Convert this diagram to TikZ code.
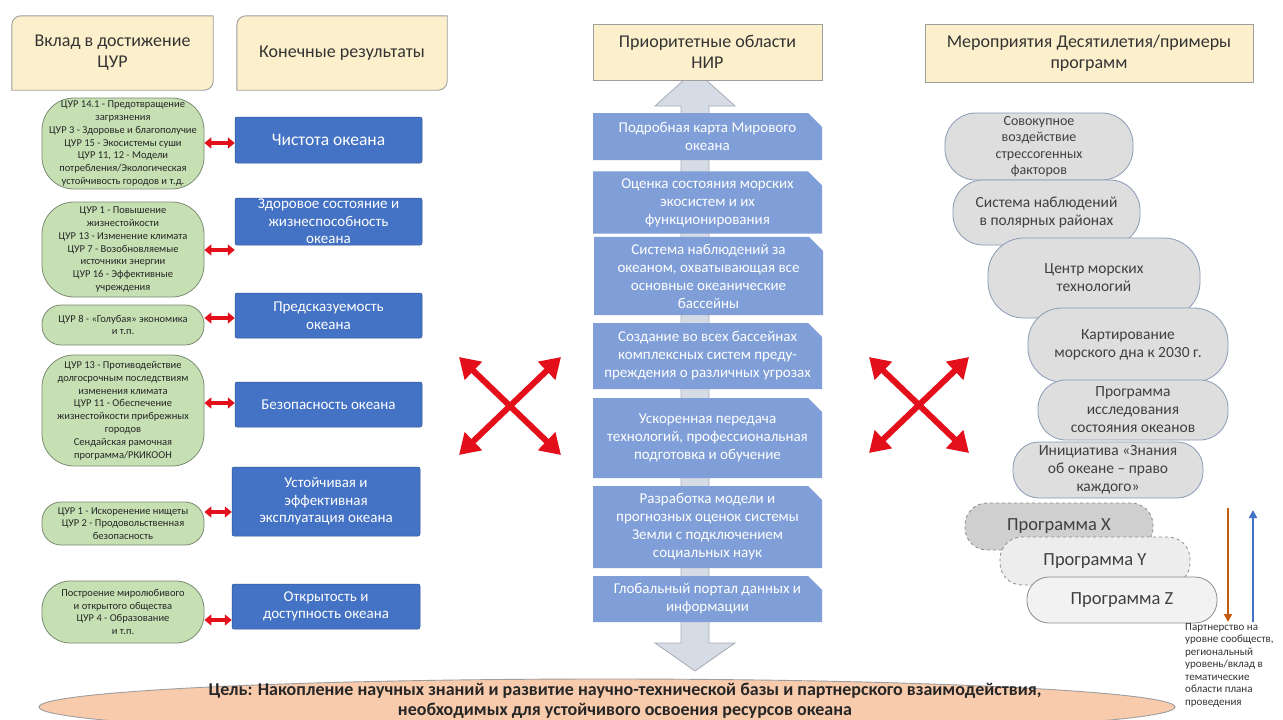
\documentclass[tikz,border=0pt]{standalone}
\usepackage{fontspec}
\setmainfont{Carlito}
\usetikzlibrary{shapes.misc}
\usetikzlibrary{shapes.geometric}
\usetikzlibrary{arrows.meta}
\usetikzlibrary{backgrounds}

\definecolor{hdrfill}{HTML}{FCEFCB}
\definecolor{hdrline}{HTML}{9E9E9E}
\definecolor{sdgfill}{HTML}{C6E0B4}
\definecolor{sdgline}{HTML}{7C8A70}
\definecolor{resfill}{HTML}{4472C4}
\definecolor{resline}{HTML}{2F5597}
\definecolor{nirfill}{HTML}{809FD8}
\definecolor{shaftfill}{HTML}{D6DCE5}
\definecolor{shaftline}{HTML}{A6ABB3}
\definecolor{actfill}{HTML}{DEDEDE}
\definecolor{actline}{HTML}{8A9BB5}
\definecolor{goalfill}{HTML}{F8CBAD}
\definecolor{focus}{HTML}{E3101B}
\definecolor{downcol}{HTML}{C55A11}
\definecolor{upcol}{HTML}{4472C4}

\tikzset{
	hdr/.style = {align=center, inner sep=0pt, text=black!80, font=\fontsize{18}{21}\selectfont},
	hdrbox/.style = {hdr, fill=hdrfill, draw=hdrline, line width=0.9pt},
	hdrframe/.style = {fill=hdrfill, draw=hdrline, line width=0.9pt},
	sdg/.style = {fill=sdgfill, draw=sdgline, line width=0.8pt, rounded corners=19pt, align=center,
		inner sep=0pt, text=black!85, font=\fontsize{10.5}{12.8}\selectfont},
	res/.style = {fill=resfill, draw=resline, line width=0.5pt, rounded corners=2pt, align=center,
		inner sep=0pt, text=white, font=\fontsize{15}{17.5}\selectfont},
	nir/.style = {chamfered rectangle, chamfered rectangle corners=north east, chamfered rectangle sep=7pt,
		fill=nirfill, align=center, inner sep=0pt, text=white, font=\fontsize{15}{18}\selectfont},
	act/.style = {fill=actfill, draw=actline, line width=0.8pt, align=center,
		inner sep=0pt, text=black!75, font=\fontsize{15.5}{18}\selectfont},
	prog/.style = {act, draw=black!45, rounded corners=22pt, font=\fontsize{18.5}{21}\selectfont},
	link/.style = {focus, line width=4pt, >={Triangle[width=11pt,length=7pt]}, <->},
	cross/.style = {focus, line width=6pt, >={Triangle[width=24pt,length=20pt]}, <->},
	shaft/.style = {fill=shaftfill, draw=shaftline, line width=0.8pt},
	note/.style = {align=left, inner sep=0pt, text=black!80, font=\fontsize{11}{12.5}\selectfont}
}

% header with rounded diagonal corners
\newcommand\diagframe[1]{%
	\draw[hdrframe, y=1pt] ([yshift=-9pt]#1.north west) arc[start angle=180, end angle=90, radius=9pt] --
		(#1.north east) -- ([yshift=9pt]#1.south east) arc[start angle=0, end angle=-90, radius=9pt] --
		(#1.south west) -- cycle;}

\begin{document}
\begin{tikzpicture}[x = 1pt, y = -1pt]

	\useasboundingbox (0,0) rectangle (1283,720);

	% central double arrow
	\draw[shaft] 	(695,70) -- (735,106) -- (709,106) -- (709,643) -- (735,643) -- (695,671) --
					(655,643) -- (681,643) -- (681,106) -- (655,106) -- cycle;

	% headers
	\node[hdr, minimum width=201, minimum height=74] (sdgh) at (112.5,53) {Вклад в достижение\\ЦУР};
	\node[hdr, minimum width=210, minimum height=74] (resh) at (342,53) {Конечные результаты};
	\node[hdrbox, minimum width=229, minimum height=56] (nirh) at (707.5,52) {Приоритетные области\\НИР};
	\node[hdrbox, minimum width=328, minimum height=58] (acth) at (1089,53) {Мероприятия Десятилетия/примеры\\программ};

	% left column: SDG contributions
	\node[sdg, rounded corners=32pt, minimum width=162, minimum height=91] (sdg1) at (123,143.5)
		{ЦУР 14.1 - Предотвращение\\загрязнения\\ЦУР 3 - Здоровье и благополучие\\ЦУР 15 - Экосистемы суши\\ЦУР 11, 12 - Модели\\потребления/Экологическая\\устойчивость городов и т.д.};
	\node[sdg, rounded corners=32pt, minimum width=162, minimum height=95] (sdg2) at (123,249.5)
		{ЦУР 1 - Повышение\\жизнестойкости\\ЦУР 13 - Изменение климата\\ЦУР 7 - Возобновляемые\\источники энергии\\ЦУР 16 - Эффективные\\учреждения};
	\node[sdg, minimum width=162, minimum height=40] (sdg3) at (123,325)
		{ЦУР 8 - «Голубая» экономика\\и т.п.};
	\node[sdg, rounded corners=32pt, minimum width=162, minimum height=111] (sdg4) at (123,410.5)
		{ЦУР 13 - Противодействие\\долгосрочным последствиям\\изменения климата\\ЦУР 11 - Обеспечение\\жизнестойкости прибрежных\\городов\\Сендайская рамочная\\программа/РКИКООН};
	\node[sdg, minimum width=162, minimum height=43] (sdg5) at (123,523.5)
		{ЦУР 1 - Искоренение нищеты\\ЦУР 2 - Продовольственная\\безопасность};
	\node[sdg, rounded corners=28pt, minimum width=162, minimum height=62] (sdg6) at (123,612)
		{Построение миролюбивого\\и открытого общества\\ЦУР 4 - Образование\\и т.п.};

	% outcomes
	\node[res, minimum width=187, minimum height=46] (res1) at (328.5,140) {\fontsize{17.5}{20}\selectfont Чистота океана};
	\node[res, minimum width=187, minimum height=47] (res2) at (328.5,221.5) {Здоровое состояние и\\жизнеспособность\\океана};
	\node[res, minimum width=187, minimum height=45] (res3) at (328.5,315.5) {Предсказуемость\\океана};
	\node[res, minimum width=187, minimum height=45] (res4) at (328.5,404.5) {Безопасность океана};
	\node[res, minimum width=188, minimum height=69] (res5) at (326,501.5) {Устойчивая и\\эффективная\\эксплуатация океана};
	\node[res, minimum width=188, minimum height=45] (res6) at (326,606.5) {Открытость и\\доступность океана};

	\draw[link] (sdg1.east |- 0,143) -- (res1.west |- 0,143);
	\draw[link] (sdg2.east |- 0,250) -- (res2.west |- 0,250);
	\draw[link] (sdg3.east |- 0,318) -- (res3.west |- 0,318);
	\draw[link] (sdg4.east |- 0,403) -- (res4.west |- 0,403);
	\draw[link] (sdg5.east |- 0,512) -- (res5.west |- 0,512);
	\draw[link] (sdg6.east |- 0,620) -- (res6.west |- 0,620);

	% priority research areas
	\node[nir, minimum width=229, minimum height=47] (nir1) at (707.5,136.5) {Подробная карта Мирового\\океана};
	\node[nir, minimum width=229, minimum height=55] (nir2) at (707.5,202.5) {Оценка состояния морских\\экосистем и их\\функционирования};
	\node[nir, minimum width=229, minimum height=72] (nir3) at (708.5,276) {Система наблюдений за\\океаном, охватывающая все\\основные океанические\\бассейны};
	\node[nir, minimum width=229, minimum height=66] (nir4) at (707.5,356) {Создание во всех бассейнах\\комплексных систем преду-\\преждения о различных угрозах};
	\node[nir, minimum width=229, minimum height=80] (nir5) at (707.5,438) {Ускоренная передача\\технологий, профессиональная\\подготовка и обучение};
	\node[nir, minimum width=229, minimum height=82] (nir6) at (707.5,527) {Разработка модели и\\прогнозных оценок системы\\Земли с подключением\\социальных наук};
	\node[nir, minimum width=229, minimum height=46] (nir7) at (707.5,599) {Глобальный портал данных и\\информации};

	% crossing arrows
	\coordinate (lxa) at (459,357);
	\coordinate (lxb) at (561,455);
	\coordinate (lxc) at (561,357);
	\coordinate (lxd) at (459,455);
	\draw[cross] (lxa) -- (lxb);
	\draw[cross] (lxc) -- (lxd);

	\coordinate (rxa) at (869,357);
	\coordinate (rxb) at (969,453);
	\coordinate (rxc) at (969,357);
	\coordinate (rxd) at (869,453);
	\draw[cross] (rxa) -- (rxb);
	\draw[cross] (rxc) -- (rxd);

	% decade actions
	\node[act, rounded corners=31pt, font=\fontsize{14}{16.5}\selectfont, minimum width=188, minimum height=67] (act1) at (1039,146.5) {Совокупное\\воздействие\\стрессогенных\\факторов};
	\node[act, rounded corners=30pt, minimum width=187, minimum height=65] (act2) at (1046.5,212.5) {Система наблюдений\\в полярных районах};
	\node[act, rounded corners=36pt, minimum width=212, minimum height=80] (act3) at (1094,278) {Центр морских\\технологий};
	\node[act, rounded corners=34pt, minimum width=200, minimum height=74] (act4) at (1128,345) {Картирование\\морского дна к 2030 г.};
	\node[act, rounded corners=28pt, minimum width=190, minimum height=60] (act5) at (1133,410) {Программа\\исследования\\состояния океанов};
	\node[act, rounded corners=26pt, minimum width=190, minimum height=56] (act6) at (1108,470) {Инициатива «Знания\\об океане – право\\каждого»};

	\node[prog, dashed, fill=black!19, minimum width=188, minimum height=47] (progx) at (1059,526.5) {Программа X};
	\node[prog, dashed, fill=black!7, minimum width=190, minimum height=48] (progy) at (1095,561) {Программа Y};
	\node[prog, fill=black!5, minimum width=190, minimum height=46] (progz) at (1122,600) {Программа Z};

	\coordinate (dntop) at (1228,508);
	\coordinate (dnend) at (1228,622);
	\coordinate (uptop) at (1253,510);
	\coordinate (upend) at (1253,622);
	\draw[downcol, line width=2.2pt, -{Triangle[width=8pt,length=8pt]}] (dntop) -- (dnend);
	\draw[upcol, line width=2.2pt, -{Triangle[width=8pt,length=8pt]}] (upend) -- (uptop);

	\node[note, anchor=north west] (partner) at (1185,623)
		{Партнерство на\\уровне сообществ,\\региональный\\уровень/вклад в\\тематические\\области плана\\проведения};

	% goal
	\node[ellipse, fill=goalfill, draw=hdrline, line width=0.9pt, minimum width=1136, minimum height=56] (goal) at (607,707) {};
	\node[align=center, inner sep=0pt, font=\bfseries\fontsize{18}{20}\selectfont, text=black!85] (goaltext) at (625,701)
		{Цель: Накопление научных знаний и развитие научно-технической базы и партнерского взаимодействия,\\необходимых для устойчивого освоения ресурсов океана};

	\begin{scope}[on background layer]
		\fill[white] (0,0) rectangle (1283,720);
		\diagframe{sdgh}
		\diagframe{resh}
	\end{scope}

\end{tikzpicture}
\end{document}
